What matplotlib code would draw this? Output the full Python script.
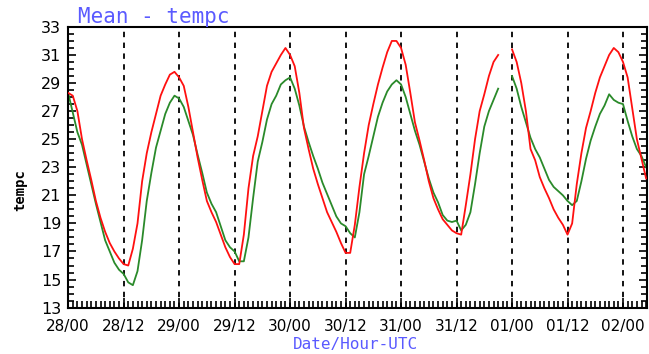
import numpy as np
import matplotlib
matplotlib.use('Agg')
import matplotlib.pyplot as plt
from matplotlib.ticker import MultipleLocator

nan = np.nan

# hours since 28/00 UTC
hours = list(range(0, 126))

tick_labels = ['28/00', '28/12', '29/00', '29/12', '30/00', '30/12',
               '31/00', '31/12', '01/00', '01/12', '02/00']

red_temp = [28.3, 28.1, 27.0, 25.0, 23.5, 22.1, 20.6, 19.4, 18.4, 17.6,
            17.0, 16.5, 16.1, 16.0, 17.2, 19.0, 22.0, 24.0, 25.5, 26.8,
            28.1, 28.9, 29.6, 29.8, 29.4, 28.8, 27.3, 25.5, 23.7, 22.1,
            20.6, 19.8, 19.1, 18.2, 17.3, 16.6, 16.1, 16.1, 18.2, 21.5,
            23.8, 25.2, 27.0, 28.8, 29.8, 30.4, 31.0, 31.5, 31.0, 30.2,
            28.3, 25.8, 24.3, 22.9, 21.8, 20.8, 19.8, 19.1, 18.4, 17.6,
            16.9, 16.9, 18.9, 21.6, 24.0, 26.0, 27.5, 28.9, 30.1, 31.2,
            32.0, 32.0, 31.5, 30.3, 28.3, 26.2, 24.9, 23.5, 22.0, 20.8,
            20.0, 19.3, 18.9, 18.5, 18.3, 18.2, 20.3, 22.5, 25.0, 27.0,
            28.2, 29.5, 30.5, 31.0, nan, nan, 31.4, 30.5, 29.0, 27.0,
            24.3, 23.5, 22.3, 21.5, 20.8, 20.0, 19.4, 18.9, 18.2, 19.0,
            21.8, 24.0, 25.8, 27.0, 28.3, 29.4, 30.2, 31.0, 31.5, 31.2,
            30.5, 29.4, 27.2, 25.0, 23.6, 22.2]

green_temp = [28.3, 26.9, 25.5, 24.6, 23.2, 21.8, 20.4, 19.1, 17.8, 17.0,
              16.2, 15.7, 15.4, 14.8, 14.6, 15.6, 17.8, 20.6, 22.6, 24.4,
              25.6, 26.8, 27.6, 28.1, 27.9, 27.3, 26.3, 25.3, 23.9, 22.6,
              21.2, 20.4, 19.8, 18.8, 17.8, 17.3, 17.0, 16.3, 16.3, 18.0,
              20.8, 23.4, 24.8, 26.4, 27.5, 28.1, 28.9, 29.2, 29.4, 28.6,
              27.4, 25.9, 24.8, 23.8, 22.9, 21.9, 21.1, 20.3, 19.5, 19.0,
              18.8, 18.3, 18.0, 19.8, 22.5, 23.8, 25.2, 26.6, 27.6, 28.4,
              28.9, 29.2, 28.9, 28.0, 26.8, 25.6, 24.6, 23.4, 22.2, 21.2,
              20.5, 19.6, 19.2, 19.1, 19.2, 18.5, 18.9, 19.8, 21.8, 24.0,
              25.9, 27.0, 27.8, 28.6, nan, nan, 29.5, 28.6, 27.3, 26.2,
              25.1, 24.3, 23.7, 22.9, 22.1, 21.6, 21.3, 21.0, 20.6, 20.3,
              20.6, 22.0, 23.6, 24.9, 25.9, 26.8, 27.4, 28.2, 27.8, 27.6,
              27.5, 26.3, 25.2, 24.3, 23.8, 23.0]

fig = plt.figure(figsize=(6.49, 3.54), dpi=100)
ax = fig.add_axes([0.105, 0.131, 0.892, 0.793])

tick_pos = [12 * i for i in range(len(tick_labels))]
for x in tick_pos[1:]:
    ax.axvline(x, color='black', linestyle=(0, (3, 3)), linewidth=1.3, zorder=1)

ax.plot(hours, red_temp, color='#ff1010', linewidth=1.3, zorder=3)
ax.plot(hours, green_temp, color='#2a8a2a', linewidth=1.3, zorder=2)

ax.set_xlim(0, 125.2)
ax.set_ylim(13, 33)
ax.set_xticks(tick_pos)
ax.set_xticklabels(tick_labels)
ax.xaxis.set_minor_locator(MultipleLocator(1))
ax.set_yticks(range(13, 34, 2))
ax.yaxis.set_minor_locator(MultipleLocator(0.5))

ax.tick_params(axis='both', which='both', direction='in', colors='black',
               width=1.2)
ax.tick_params(axis='x', which='major', length=7, labelsize=11, pad=8)
ax.tick_params(axis='x', which='minor', length=5)
ax.tick_params(axis='y', which='major', length=6, labelsize=11.5, right=True,
               pad=5)
ax.tick_params(axis='y', which='minor', length=4, right=True)

for s in ax.spines.values():
    s.set_linewidth(1.5)

fig.text(78 / 649, 1 - 17 / 354, 'Mean - tempc', color='#5a5aff',
         family='DejaVu Sans Mono', fontsize=15, va='center', ha='left')
fig.text(355 / 649, 1 - 344 / 354, 'Date/Hour-UTC', color='#5a5aff',
         family='DejaVu Sans Mono', fontsize=11.5, va='center', ha='center')
fig.text(20 / 649, 1 - 190 / 354, 'tempc', color='black', rotation=90,
         family='DejaVu Sans Mono', fontsize=10, fontweight='bold',
         va='center', ha='center')

fig.savefig('out.png', dpi=100)
